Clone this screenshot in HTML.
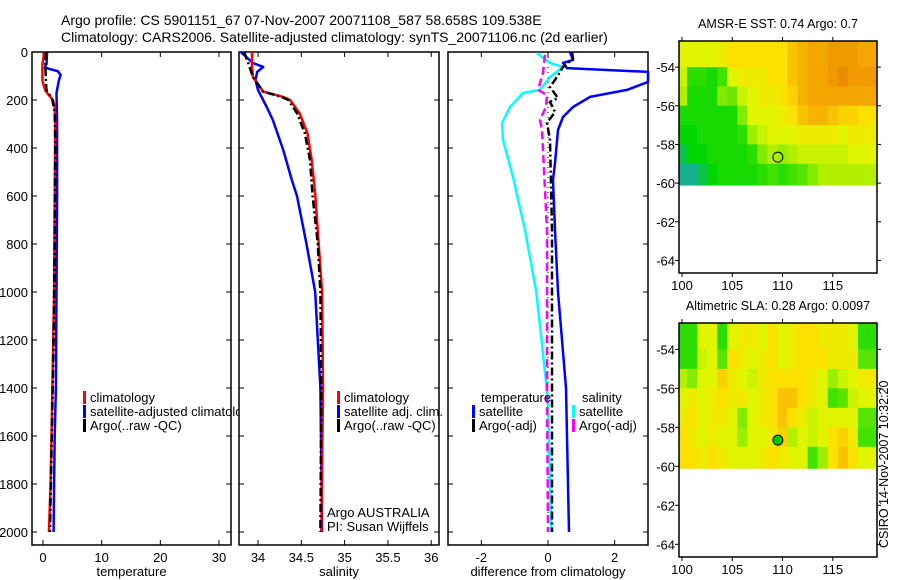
<!DOCTYPE html>
<html><head><meta charset="utf-8"><style>
body{margin:0;background:#fff;}
svg{display:block;font-family:"Liberation Sans",sans-serif;}
</style></head><body>
<svg id="c" width="900" height="580" viewBox="0 0 900 580" xmlns="http://www.w3.org/2000/svg">
<defs><clipPath id="legclip"><rect x="0" y="380" width="239" height="60"/></clipPath></defs>
<text x="61" y="25" font-size="14">Argo profile: CS 5901151_67 07-Nov-2007 20071108_587 58.658S 109.538E</text>
<text x="61" y="42" font-size="14">Climatology: CARS2006. Satellite-adjusted climatology: synTS_20071106.nc (2d earlier)</text>
</svg>
<script>
// ---- data ----
const depthTicks=[0,200,400,600,800,1000,1200,1400,1600,1800,2000];
const tempTicks=[0,10,20,30];
const salTicks=[34,34.5,35,35.5,36];
const salTickLabels=["34","34.5","35","35.5","36"];
const diffTicks=[-2,0,2];
// temperature panel
const tClimD=[0,20,50,120,160,180,200,230,300,600,1000,1400,1800,2000];
const tClimV=[0.3,0.1,-0.1,-0.1,0.4,1.0,1.7,2.0,2.1,2.0,1.9,1.6,1.3,1.0];
const tSatD=[0,50,65,70,80,95,120,170,300,600,1000,1400,1600,1800,2000];
const tSatV=[0.7,0.6,0.3,1.0,2.5,3.0,2.7,2.3,2.4,2.4,2.3,2.2,2.0,1.9,1.8];
const tArgoD=[0,50,120,160,180,200,250,400,800,1200,1600,2000];
const tArgoV=[0.5,0.4,0.5,0.6,1.2,1.6,2.0,2.1,2.0,1.8,1.5,1.2];
// salinity panel
const sClimD=[0,60,104,165,187,200,255,338,450,590,800,1000,1400,2000];
const sClimV=[33.93,33.93,33.94,34.06,34.29,34.37,34.48,34.57,34.62,34.66,34.70,34.74,34.75,34.73];
const sSatD=[0,46,62,83,117,158,229,283,408,533,600,800,1000,1200,1400,2000];
const sSatV=[33.8,33.94,34.06,33.99,33.97,34.0,34.1,34.17,34.29,34.39,34.45,34.56,34.66,34.69,34.72,34.74];
const sArgoD=[0,60,104,165,187,200,255,338,450,600,800,1000,1400,2000];
const sArgoV=[33.84,33.9,33.94,34.06,34.27,34.35,34.45,34.54,34.6,34.63,34.69,34.72,34.73,34.72];
// difference panel
const dTSatD=[0,33,46,67,83,125,158,187,229,271,325,463,533,742,1000,1400,2000];
const dTSatV=[0.66,0.75,0.45,0.57,3.2,3.2,2.37,1.26,0.75,0.45,0.3,0.21,0.15,0.21,0.3,0.54,0.63];
const dTArgoD=[0,29,62,104,146,192,208,250,296,367,742,1400,2000];
const dTArgoV=[0.72,0.75,0.45,0.27,0.06,0.3,0.06,0.21,-0.03,0.06,0.12,0.12,0.12];
const dSSatD=[4,46,62,104,158,171,229,296,367,521,742,1000,1450,2000];
const dSSatV=[-0.33,0.06,0.45,0.06,-0.24,-0.75,-1.14,-1.38,-1.35,-1.05,-0.69,-0.35,0.0,0.1];
const dSArgoD=[12,87,158,179,229,283,325,742,1400,2000];
const dSArgoV=[-0.09,-0.15,-0.3,-0.03,-0.06,-0.24,-0.18,-0.03,-0.03,0.0];
// maps (rows lat 53..59, cols lon 100..118)
const mapLats=[53,54,55,56,57,58,59];
const mapLons=[100,101,102,103,104,105,106,107,108,109,110,111,112,113,114,115,116,117,118];
const sstGrid=[
[.5,.5,.5,.5,.55,.6,.6,.6,.6,.6,.6,.7,.75,.8,.8,.85,.85,.85,.8],
[.45,.1,.1,.05,.15,.5,.55,.55,.55,.6,.6,.7,.75,.8,.8,.85,.9,.85,.85],
[.4,.05,.05,.05,.3,.25,.45,.5,.55,.55,.6,.65,.75,.8,.8,.8,.8,.8,.8],
[.05,.05,.05,.05,.05,.05,.3,.5,.5,.5,.55,.6,.7,.75,.75,.7,.65,.65,.6],
[0,0,.05,.05,.05,.05,.1,.35,.45,.5,.5,.5,.55,.55,.55,.55,.5,.55,.55],
[-.05,0,0,.05,.05,.05,.05,.1,.3,.4,.35,.4,.45,.45,.45,.45,.45,.5,.5],
[-.1,-.1,-.05,0,.05,.05,.05,.05,.1,.15,.1,.15,.2,.3,.4,.4,.4,.4,.4]];
const slaGrid=[
[.1,.1,.5,.5,.1,.5,.55,.55,.5,.6,.5,.55,.6,.6,.55,.55,.55,.5,.1],
[.1,.1,.45,.5,.2,.6,.55,.5,.55,.6,.5,.55,.6,.6,.6,.55,.55,.55,.2],
[.4,.3,.5,.5,.65,.55,.5,.45,.55,.6,.6,.6,.6,.55,.5,.35,.45,.5,.55],
[.5,.55,.5,.55,.6,.55,.55,.5,.55,.6,.7,.7,.6,.55,.5,.15,.2,.45,.5],
[.55,.6,.5,.55,.55,.5,.3,.5,.55,.6,.7,.6,.55,.45,.5,.5,.5,.5,.2],
[.6,.55,.5,.55,.5,.5,.35,.5,.5,.55,.65,.4,.5,.45,.5,.6,.65,.55,.15],
[.6,.6,.55,.6,.55,.5,.5,.5,.55,.6,.55,.5,.5,.15,.35,.6,.7,.6,.5]];
const argoLon=109.538, argoLat=58.658;
const lonTicks=[100,105,110,115];
const latTicks=[54,56,58,60,62,64];

// ---- drawing ----
const svg=document.getElementById('c');
const NS='http://www.w3.org/2000/svg';
function mk(tag,attrs,parent){const e=document.createElementNS(NS,tag);for(const k in attrs)e.setAttribute(k,attrs[k]);(parent||svg).appendChild(e);return e;}
const yD=d=>52+d*0.24;
const PT=52,PB=545;
const panels=[
 {x0:32,x1:231,vmin:-1.875,vmax:32.05,ticks:tempTicks,labels:tempTicks.map(String),title:'temperature',name:'temperature'},
 {x0:239,x1:439,vmin:33.78,vmax:36.09,ticks:salTicks,labels:salTickLabels,title:'salinity',name:'salinity'},
 {x0:448,x1:648,vmin:-3.0,vmax:3.0,ticks:diffTicks,labels:diffTicks.map(String),title:'difference from climatology',name:'difference'}];
panels.forEach((p,i)=>{
 p.sx=v=>p.x0+(v-p.vmin)/(p.vmax-p.vmin)*(p.x1-p.x0);
 const g=mk('g',{});
 
 
 mk('rect',{x:p.x0,y:PT,width:p.x1-p.x0,height:PB-PT,fill:'none',stroke:'#000','stroke-width':1.5},g);
 depthTicks.forEach(d=>{
  const y=yD(d);
  mk('line',{x1:p.x0,x2:p.x0+5,y1:y,y2:y,stroke:'#000'},g);
  mk('line',{x1:p.x1,x2:p.x1-5,y1:y,y2:y,stroke:'#000'},g);
  if(i==0){const t=mk('text',{x:p.x0-4,y:y+5,'font-size':13,'text-anchor':'end'},g);t.textContent=d;
   }
 });
 p.ticks.forEach((v,j)=>{
  const x=p.sx(v);
  mk('line',{x1:x,x2:x,y1:PB,y2:PB-5,stroke:'#000'},g);
  mk('line',{x1:x,x2:x,y1:PT,y2:PT+5,stroke:'#000'},g);
  const t=mk('text',{x:x,y:562,'font-size':13,'text-anchor':'middle'},g);t.textContent=p.labels[j];
  
 });
 const tt=mk('text',{x:(p.x0+p.x1)/2,y:576,'font-size':13,'text-anchor':'middle'},g);tt.textContent=p.title;
 
});
function line(p,D,V,color,dash,name,w){
 const pts=D.map((d,k)=>p.sx(Math.min(Math.max(V[k],p.vmin),p.vmax)).toFixed(1)+','+yD(d).toFixed(1)).join(' ');
 const e=mk('polyline',{points:pts,fill:'none',stroke:color,'stroke-width':w||2.5,'stroke-linejoin':'round'});
 if(dash)e.setAttribute('stroke-dasharray',dash);
 
 
}
const P1=panels[0],P2=panels[1],P3=panels[2];
line(P1,tSatD,tSatV,'#0000ff',null,'temp-satellite-line');
line(P1,tClimD,tClimV,'#ff0000',null,'temp-climatology-line');
line(P1,tArgoD,tArgoV,'#000',"8,3,2,3",'temp-argo-line');
line(P2,sSatD,sSatV,'#0000ff',null,'sal-satellite-line');
line(P2,sClimD,sClimV,'#ff0000',null,'sal-climatology-line');
line(P2,sArgoD,sArgoV,'#000',"8,3,2,3",'sal-argo-line');
const zl=mk('line',{x1:P3.sx(0),x2:P3.sx(0),y1:PT,y2:yD(2000),stroke:'#000','stroke-width':1,'stroke-dasharray':'1,4'});

line(P3,dTSatD,dTSatV,'#0000ff',null,'diff-temp-satellite-line');
line(P3,dSSatD,dSSatV,'#00ffff',null,'diff-sal-satellite-line');
line(P3,dSArgoD,dSArgoV,'#ff00ff',"8,4",'diff-sal-argo-line');
line(P3,dTArgoD,dTArgoV,'#000',"8,3,2,3",'diff-temp-argo-line');
// legends
function leg(x,y,color,label,name,clip){
 const g=mk('g',{});
 
 
 if(clip)g.setAttribute('clip-path','url(#legclip)');
 if(color)mk('rect',{x:x,y:y-11,width:3,height:13,fill:color},g);
 const t=mk('text',{x:x+7,y:y,'font-size':13},g);t.textContent=label;
}
leg(83,402,'#ff0000','climatology','legend-entry-climatology',true);
leg(83,416,'#0000ff','satellite-adjusted climatology','legend-entry-satellite',true);
leg(83,430,'#000','Argo(..raw -QC)','legend-entry-argo',true);
leg(337,402,'#ff0000','climatology','legend-entry-climatology');
leg(337,416,'#0000ff','satellite adj. clim.','legend-entry-satellite');
leg(337,430,'#000','Argo(..raw -QC)','legend-entry-argo');
leg(474,402,null,'temperature','legend-header-temperature');
leg(472,416,'#0000ff','satellite','legend-entry-temp-satellite');
leg(472,430,'#000','Argo(-adj)','legend-entry-temp-argo');
leg(575,402,null,'salinity','legend-header-salinity');
leg(572,416,'#00ffff','satellite','legend-entry-sal-satellite');
leg(572,430,'#ff00ff','Argo(-adj)','legend-entry-sal-argo');
const a1=mk('text',{x:327,y:517,'font-size':13});a1.textContent='Argo AUSTRALIA';

const a2=mk('text',{x:327,y:531,'font-size':13});a2.textContent='PI: Susan Wijffels';

// maps
function col(v){
 const stops=[[-0.1,[20,176,140]],[0,[0,215,0]],[0.3,[130,235,0]],[0.5,[225,245,0]],[0.6,[250,225,0]],[0.8,[245,165,0]],[0.9,[235,140,0]]];
 if(v<=stops[0][0])return 'rgb('+stops[0][1]+')';
 for(let i=1;i<stops.length;i++){if(v<=stops[i][0]){const a=stops[i-1],b=stops[i],t=(v-a[0])/(b[0]-a[0]);
  return 'rgb('+a[1].map((c,k)=>Math.round(c+(b[1][k]-c)*t)).join(',')+')';}}
 return 'rgb('+stops[stops.length-1][1]+')';
}
function map(top,bottom,grid,title,name,filled){
 const x0=679,x1=877,lon0=99.7,lon1=119.4,lat0=52.65,lat1=64.65;
 const sx=l=>x0+(l-lon0)/(lon1-lon0)*(x1-x0);
 const sy=l=>top+(l-lat0)/(lat1-lat0)*(bottom-top);
 const g=mk('g',{});
 
 
 grid.forEach((row,r)=>row.forEach((v,c)=>{
  const la=mapLats[r],lo=mapLons[c];
  const ya=r==0?top:sy(la),yb=r==grid.length-1?sy(60.1):sy(la+1);
  const xa=c==0?x0:sx(lo-0.5),xb=c==row.length-1?x1:sx(lo+0.5);
  const cell=mk('rect',{x:xa,y:ya,width:xb-xa+0.5,height:yb-ya+0.5,fill:col(v)},g);
  
  
 }));
 mk('rect',{x:x0,y:top,width:x1-x0,height:bottom-top,fill:'none',stroke:'#000','stroke-width':1.5},g);
 lonTicks.forEach(l=>{const x=sx(l);mk('line',{x1:x,x2:x,y1:bottom,y2:bottom+4,stroke:'#000'},g);mk('line',{x1:x,x2:x,y1:top,y2:top-4,stroke:'#000'},g);
  const t=mk('text',{x:x,y:bottom+17,'font-size':13,'text-anchor':'middle'},g);t.textContent=l;
  });
 latTicks.forEach(l=>{const y=sy(l);mk('line',{x1:x0,x2:x0-4,y1:y,y2:y,stroke:'#000'},g);mk('line',{x1:x1,x2:x1+4,y1:y,y2:y,stroke:'#000'},g);
  const t=mk('text',{x:x0-4,y:y+5,'font-size':13,'text-anchor':'end'},g);t.textContent='-'+l;
  });
 const tt=mk('text',{x:(x0+x1)/2,y:top-13,'font-size':12.5,'text-anchor':'middle'},g);tt.textContent=title;
 
 const m=mk('circle',{cx:sx(argoLon),cy:sy(argoLat),r:5,fill:filled?'#00c800':'none',stroke:'#000','stroke-width':1},g);
 
 
}
map(41,273,sstGrid,'AMSR-E SST: 0.74 Argo: 0.7','sst-map',false);
map(323,557,slaGrid,'Altimetric SLA: 0.28 Argo: 0.0097','sla-map',true);
const st=mk('text',{x:0,y:0,'font-size':12.5,transform:'translate(888,548) rotate(-90)'});
st.textContent='CSIRO 14-Nov-2007 10:32:20';

</script>
</body></html>
